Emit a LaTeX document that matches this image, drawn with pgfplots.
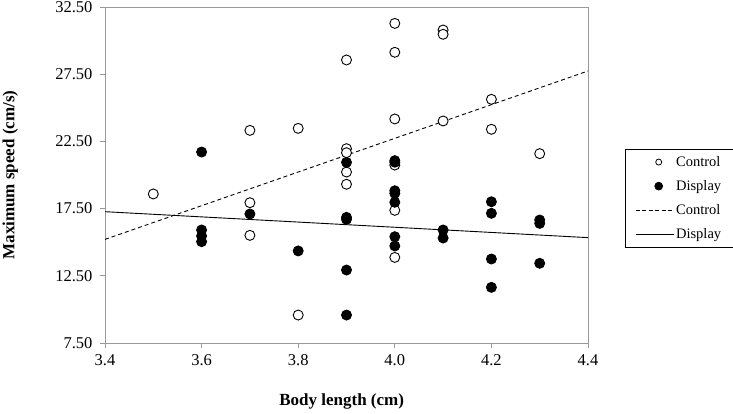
\documentclass[border=0pt]{standalone}
\usepackage{pgfplots}
\pgfplotsset{compat=1.18}
\usepackage{fontspec}
\setmainfont{Liberation Serif}
\pgfplotsset{
  ptlegend/.style={legend image code/.code={\draw[##1] plot coordinates {(23pt,0pt)};}},
  lnlegend/.style={legend image code/.code={\draw[##1] (0pt,0pt) -- (38pt,0pt);}},
}
\begin{document}
\begin{tikzpicture}[x=1pt,y=1pt]
\path[use as bounding box] (0,0) rectangle (733,413);
\begin{axis}[
  at={(105pt,70pt)}, anchor=south west,
  width=483pt, height=336pt, scale only axis,
  xmin=3.4, xmax=4.4, ymin=7.5, ymax=32.5,
  xtick={3.4,3.6,3.8,4.0,4.2,4.4},
  ytick={7.5,12.5,17.5,22.5,27.5,32.5},
  /pgf/number format/assume math mode=true,
  xticklabel style={/pgf/number format/.cd, fixed, fixed zerofill, precision=1, /tikz/.cd, yshift=-3pt},
  yticklabel style={/pgf/number format/.cd, fixed, fixed zerofill, precision=2, /tikz/.cd, xshift=-4pt},
  ticklabel style={font=\fontsize{16.5}{19}\selectfont, black},
  tick pos=left, tick align=outside, major tick length=5pt,
  tick style={gray!80, line width=0.8pt},
  axis line style={gray!80, line width=0.8pt},
  xlabel={\textbf{Body length (cm)}},
  ylabel={\textbf{Maximum speed (cm/s)}},
  label style={font=\fontsize{17}{20}\selectfont},
  xlabel style={at={(axis description cs:0.49,-0.173)}, anchor=center},
  ylabel style={at={(axis description cs:-0.196,0.5)}, anchor=center, rotate=0},
  legend style={at={(axis description cs:1.0766,0.5774)}, anchor=north west,
    draw=black, fill=white, line width=0.6pt, font=\fontsize{14.5}{17}\selectfont,
    row sep=8.5pt, inner xsep=10pt, inner ysep=5pt, cells={anchor=west}},
  legend cell align=left,
]
\addplot[black, line width=0.9pt, dash pattern=on 4pt off 3pt, forget plot] coordinates {(3.4,15.21) (4.4,27.74)};
\addplot[black, line width=0.9pt, forget plot] coordinates {(3.4,17.27) (4.4,15.34)};
\addplot[only marks, mark=*, mark size=5pt, mark options={fill=white, draw=black, line width=0.9pt}, forget plot] coordinates {
(3.5,18.59) (3.7,23.32) (3.7,17.94) (3.7,15.51) (3.8,23.47) (3.8,9.58)
(3.9,28.56) (3.9,21.96) (3.9,21.66) (3.9,20.22) (3.9,19.31)
(4.0,31.28) (4.0,29.13) (4.0,24.17) (4.0,20.74) (4.0,17.37) (4.0,13.87)
(4.1,30.79) (4.1,30.47) (4.1,24.02) (4.2,25.63) (4.2,23.40) (4.3,21.59)};
\addplot[only marks, mark=*, mark size=5pt, mark options={fill=black, draw=black, line width=0.9pt}, forget plot] coordinates {
(3.6,21.71) (3.6,15.91) (3.6,15.46) (3.6,15.04) (3.7,17.10) (3.8,14.35)
(3.9,20.94) (3.9,16.85) (3.9,16.70) (3.9,12.93) (3.9,9.58)
(4.0,21.07) (4.0,20.95) (4.0,18.83) (4.0,18.63) (4.0,17.97) (4.0,15.41) (4.0,14.72)
(4.1,15.91) (4.1,15.31) (4.2,18.01) (4.2,17.15) (4.2,13.75) (4.2,11.64)
(4.3,16.65) (4.3,16.40) (4.3,13.43)};
\addlegendimage{only marks, mark=*, mark size=3pt, mark options={fill=white, draw=black, line width=0.8pt}, ptlegend}
\addlegendentry{Control}
\addlegendimage{only marks, mark=*, mark size=4pt, mark options={fill=black, draw=black}, ptlegend}
\addlegendentry{Display}
\addlegendimage{black, line width=0.8pt, dash pattern=on 4pt off 2.5pt, lnlegend}
\addlegendentry{Control}
\addlegendimage{black, line width=0.8pt, lnlegend}
\addlegendentry{Display}
\end{axis}
\end{tikzpicture}
\end{document}
